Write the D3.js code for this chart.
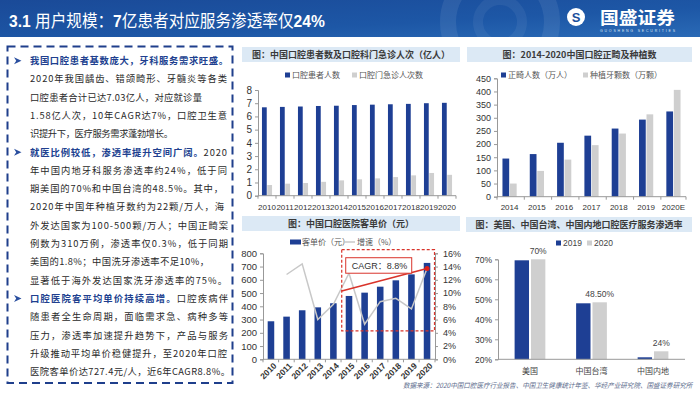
<!DOCTYPE html>
<html>
<head>
<meta charset="utf-8">
<script src="https://cdn.jsdelivr.net/npm/d3@7"></script>
<style>
  body { margin: 0; background: #fff; }
  svg text { font-family: "Liberation Sans", "Noto Sans CJK SC", sans-serif; }
  svg .cn { font-family: "Noto Sans CJK SC", sans-serif; }
</style>
</head>
<body>
<div id="slide"></div>
<script>
// ---- data ----
var patientYears = ["2010", "2011", "2012", "2013", "2014", "2015", "2016", "2017", "2018", "2019", "2020"];
var patientCount = [6.69, 6.72, 6.75, 6.79, 6.81, 6.86, 6.89, 6.92, 6.95, 7.00, 7.03];   // 亿人
var visitCount = [0.81, 0.91, 0.96, 1.05, 1.16, 1.24, 1.31, 1.41, 1.54, 1.72, 1.58];      // 亿人次

var orthoYears = ["2014", "2015", "2016", "2017", "2018", "2019", "2020E"];
var orthoCases = [145, 162, 205, 232, 259, 293, 324];    // 万人
var implantTeeth = [50, 98, 141, 196, 240, 313, 406];   // 万颗

var priceYears = ["2010", "2011", "2012", "2013", "2014", "2015", "2016", "2017", "2018", "2019", "2020"];
var unitPrice = [287, 322, 370, 392, 423, 478, 503, 548, 596, 641, 727.4];   // 元
var priceGrowth = [null, 12.8, 14.4, 6.0, 8.3, 13.0, 5.3, 8.7, 9.2, 7.6, 13.7]; // %

var regions = ["美国", "中国台湾", "中国内地"];
var rate2019 = [69.5, 48, 21];
var rate2020 = [70, 48.5, 24];
var rateLabels = ["70%", "48.50%", "24%"];

// left column text, [text, bold] segments per line
var bodyLines = [
    [["我国口腔患者基数庞大，牙科服务需求旺盛。", 1]],
    [["2020年我国龋齿、错颌畸形、牙髓炎等各类", 0]],
    [["口腔患者合计已达7.03亿人，对应就诊量", 0]],
    [["1.58亿人次，10年CAGR达7%，口腔卫生意", 0]],
    [["识提升下，医疗服务需求蓬勃增长。", 0]],
    [["就医比例较低，渗透率提升空间广阔。", 1], ["2020", 0]],
    [["年中国内地牙科服务渗透率约24%，低于同", 0]],
    [["期美国的70%和中国台湾的48.5%。其中，", 0]],
    [["2020年中国年种植牙数约为22颗/万人，海", 0]],
    [["外发达国家为100-500颗/万人；中国正畸案", 0]],
    [["例数为310万例，渗透率仅0.3%，低于同期", 0]],
    [["美国的1.8%；中国洗牙渗透率不足10%，", 0]],
    [["显著低于海外发达国家洗牙渗透率的75%。", 0]],
    [["口腔医院客平均单价持续高增。", 1], ["口腔疾病伴", 0]],
    [["随患者全生命周期，面临需求急、病种多等", 0]],
    [["压力，渗透率加速提升趋势下，产品与服务", 0]],
    [["升级推动平均单价稳健提升，至2020年口腔", 0]],
    [["医院客单价达727.4元/人，近6年CAGR8.8%。", 0]]
];
var bodyLineEnds = [228, 227, 202, 227, 173, 227, 227, 223, 224, 228, 228, 209, 227, 228, 228, 228, 227, 230];
var bulletLines = [0, 5, 13];

var BLUE = "#1e3f94", GREY = "#cfcfcf", INK = "#333";

var svg = d3.select("#slide").append("svg")
    .attr("width", 700)
    .attr("height", 394);

// ---- header ----
var defs = svg.append("defs");
var hg = defs.append("linearGradient").attr("id", "hdr").attr("x1", 0).attr("y1", 0).attr("x2", 1).attr("y2", 1);
hg.append("stop").attr("offset", "0%").attr("stop-color", "#1a4a98");
hg.append("stop").attr("offset", "60%").attr("stop-color", "#1d57a6");
hg.append("stop").attr("offset", "100%").attr("stop-color", "#2a6ab6");
defs.append("clipPath").attr("id", "hdrClip").append("rect").attr("width", 700).attr("height", 37);

svg.append("rect").attr("width", 700).attr("height", 37).attr("fill", "url(#hdr)");
var wm = svg.append("g").attr("clip-path", "url(#hdrClip)");
wm.append("circle").attr("cx", 500).attr("cy", 22).attr("r", 52)
    .attr("fill", "none").attr("stroke", "#ffffff").attr("stroke-opacity", 0.08).attr("stroke-width", 16);
wm.append("circle").attr("cx", 500).attr("cy", 22).attr("r", 22)
    .attr("fill", "none").attr("stroke", "#ffffff").attr("stroke-opacity", 0.06).attr("stroke-width", 10);

var title = svg.append("text").attr("class", "cn")
    .attr("fill", "#fff").attr("font-size", 17);
title.append("tspan").attr("font-weight", 700).attr("font-family", "Liberation Sans").text("3.1 ");
title.append("tspan").text("用户规模：");
title.append("tspan").attr("font-weight", 700).attr("font-family", "Liberation Sans").text("7");
title.append("tspan").text("亿患者对应服务渗透率仅");
title.append("tspan").attr("font-weight", 700).attr("font-family", "Liberation Sans").text("24%");
var tl = title.node().getComputedTextLength();
title.attr("transform", "translate(9,27) scale(" + (316 / tl) + ",1)");

// logo
svg.append("circle").attr("cx", 576).attr("cy", 17).attr("r", 9).attr("fill", "#fff");
svg.append("text").attr("x", 576).attr("y", 21.5).attr("text-anchor", "middle")
    .attr("font-size", 13).attr("font-weight", 700).attr("fill", "#1d4f9c").text("S");
svg.append("text").attr("class", "cn").attr("x", 600).attr("y", 24)
    .attr("font-size", 17).attr("font-weight", 700).attr("fill", "#fff")
    .attr("textLength", 75).attr("lengthAdjust", "spacingAndGlyphs").text("国盛证券");
svg.append("text").attr("x", 600).attr("y", 31.5)
    .attr("font-size", 3.5).attr("fill", "#dfe8f5")
    .attr("textLength", 75).attr("lengthAdjust", "spacing").text("GUOSHENG SECURITIES");

// ---- left text box ----
svg.append("rect")
    .attr("x", 7.5).attr("y", 46.5).attr("width", 225).attr("height", 336.5)
    .attr("fill", "none").attr("stroke", "#1f3f8c").attr("stroke-width", 2)
    .attr("stroke-dasharray", "8,5");

bodyLines.forEach(function (segs, i) {
    var yb = 64 + i * 18.3;
    var t = svg.append("text").attr("class", "cn")
        .attr("x", 30).attr("y", yb).attr("font-size", 9.3);
    var n = 0;
    segs.forEach(function (s) {
        t.append("tspan")
            .attr("fill", s[1] ? "#203f8f" : "#2a2a2a")
            .attr("font-weight", s[1] ? 700 : 400)
            .text(s[0]);
        n += s[0].length;
    });
    var len = t.node().getComputedTextLength();
    t.attr("letter-spacing", ((bodyLineEnds[i] - 30 - len) / (n - 1)) + "px");
});
bulletLines.forEach(function (i) {
    var yc = 60.7 + i * 18.3;
    svg.append("path")
        .attr("d", "M14," + (yc - 3.5) + " L21.5," + yc + " L14," + (yc + 3.5) + " L16.2," + yc + " Z")
        .attr("fill", "#2a4f9f");
});

// ---- helpers ----
function panelTitle(x, y, w, txt) {
    svg.append("rect").attr("x", x).attr("y", y).attr("width", w).attr("height", 15)
        .attr("fill", "#dce9f5");
    svg.append("text").attr("class", "cn")
        .attr("x", x + w / 2).attr("y", y + 11)
        .attr("text-anchor", "middle").attr("font-size", 9).attr("font-weight", 700)
        .attr("fill", "#3a3a3a").text(txt);
}
function legendItem(x, y, color, txt, wide) {
    if (wide) {
        svg.append("rect").attr("x", x).attr("y", y - 2.5).attr("width", 11).attr("height", 5).attr("fill", color);
    } else {
        svg.append("rect").attr("x", x).attr("y", y - 2.5).attr("width", 5).attr("height", 5).attr("fill", color);
    }
    svg.append("text").attr("class", "cn")
        .attr("x", x + (wide ? 12 : 7)).attr("y", y + 3)
        .attr("font-size", 8).attr("fill", "#555").text(txt);
}
function styleAxis(g, fs) {
    g.attr("font-family", null).attr("font-size", null);
    g.select(".domain").attr("stroke", "#999");
    g.selectAll(".tick line").attr("stroke", "#999");
    g.selectAll(".tick text").attr("font-size", fs).attr("fill", INK);
}
function bandAxis(x, yPos, tick) {
    svg.append("line").attr("x1", x.range()[0]).attr("x2", x.range()[1])
        .attr("y1", yPos).attr("y2", yPos).attr("stroke", "#999");
    if (tick) {
        var st = x.step();
        x.domain().forEach(function (d, i) {
            var xx = x.range()[0] + i * st;
            svg.append("line").attr("x1", xx).attr("x2", xx).attr("y1", yPos).attr("y2", yPos + 3).attr("stroke", "#999");
        });
        svg.append("line").attr("x1", x.range()[1]).attr("x2", x.range()[1]).attr("y1", yPos).attr("y2", yPos + 3).attr("stroke", "#999");
    }
}

// ---- chart 1: patients and visits ----
panelTitle(242, 47, 218, "图：中国口腔患者数及口腔科门急诊人次（亿人）");
legendItem(285, 75, BLUE, "口腔患者人数");
legendItem(352, 75, GREY, "口腔门急诊人次数");

var x1 = d3.scaleBand().domain(patientYears).range([258, 456]).paddingInner(0.44).paddingOuter(0.22);
var s1 = d3.scaleBand().domain([0, 1]).range([0, x1.bandwidth()]).paddingInner(0.1);
var y1 = d3.scaleLinear().domain([0, 8]).range([195.7, 90]);

svg.append("g").attr("transform", "translate(258,0)")
    .call(d3.axisLeft(y1).ticks(8).tickSize(3).tickPadding(3))
    .call(styleAxis, 10);
svg.append("g").selectAll("rect.a").data(patientCount).enter().append("rect")
    .attr("x", function (d, i) { return x1(patientYears[i]) + s1(0); })
    .attr("y", function (d) { return y1(d); })
    .attr("width", s1.bandwidth())
    .attr("height", function (d) { return y1(0) - y1(d); })
    .attr("fill", BLUE);
svg.append("g").selectAll("rect.b").data(visitCount).enter().append("rect")
    .attr("x", function (d, i) { return x1(patientYears[i]) + s1(1); })
    .attr("y", function (d) { return y1(d); })
    .attr("width", s1.bandwidth())
    .attr("height", function (d) { return y1(0) - y1(d); })
    .attr("fill", GREY);
bandAxis(x1, y1(0), true);
svg.append("g").selectAll("text").data(patientYears).enter().append("text")
    .attr("x", function (d) { return x1(d) + x1.bandwidth() / 2; })
    .attr("y", 210)
    .attr("text-anchor", "middle").attr("font-size", 8).attr("fill", INK)
    .text(function (d) { return d; });

// ---- chart 2: ortho and implants ----
panelTitle(467, 47, 225, "图：2014-2020中国口腔正畸及种植数");
legendItem(501, 75, BLUE, "正畸人数（万人）");
legendItem(583, 75, GREY, "种植牙颗数（万颗）");

var x2 = d3.scaleBand().domain(orthoYears).range([497, 686]).paddingInner(0.48).paddingOuter(0.2);
var s2 = d3.scaleBand().domain([0, 1]).range([0, x2.bandwidth()]).paddingInner(0.1);
var y2 = d3.scaleLinear().domain([0, 450]).range([196.7, 78.3]);

svg.append("g").attr("transform", "translate(497,0)")
    .call(d3.axisLeft(y2).tickValues(d3.range(0, 451, 50)).tickSize(3).tickPadding(3))
    .call(styleAxis, 9);
svg.append("g").selectAll("rect").data(orthoCases).enter().append("rect")
    .attr("x", function (d, i) { return x2(orthoYears[i]) + s2(0); })
    .attr("y", function (d) { return y2(d); })
    .attr("width", s2.bandwidth())
    .attr("height", function (d) { return y2(0) - y2(d); })
    .attr("fill", BLUE);
svg.append("g").selectAll("rect").data(implantTeeth).enter().append("rect")
    .attr("x", function (d, i) { return x2(orthoYears[i]) + s2(1); })
    .attr("y", function (d) { return y2(d); })
    .attr("width", s2.bandwidth())
    .attr("height", function (d) { return y2(0) - y2(d); })
    .attr("fill", GREY);
bandAxis(x2, y2(0), true);
svg.append("g").selectAll("text").data(orthoYears).enter().append("text")
    .attr("x", function (d) { return x2(d) + x2.bandwidth() / 2; })
    .attr("y", 210)
    .attr("text-anchor", "middle").attr("font-size", 8).attr("fill", INK)
    .text(function (d) { return d; });

// ---- chart 3: price per visit ----
panelTitle(242, 216, 218, "图：中国口腔医院客单价（元）");
legendItem(290, 242, BLUE, "客单价（元）", true);
svg.append("line").attr("x1", 343).attr("x2", 355).attr("y1", 242).attr("y2", 242)
    .attr("stroke", "#c8c8c8").attr("stroke-width", 1.5);
svg.append("text").attr("class", "cn").attr("x", 357).attr("y", 245)
    .attr("font-size", 8).attr("fill", "#555").text("增速（%）");

var x3 = d3.scaleBand().domain(priceYears).range([263, 435]).paddingInner(0.58).paddingOuter(0.3);
var yL = d3.scaleLinear().domain([0, 800]).range([359.3, 253.3]);
var yR = d3.scaleLinear().domain([0, 16]).range([359.3, 253.3]);

svg.append("g").attr("transform", "translate(263,0)")
    .call(d3.axisLeft(yL).ticks(8).tickSize(3).tickPadding(3))
    .call(styleAxis, 9.5);
svg.append("g").attr("transform", "translate(435,0)")
    .call(d3.axisRight(yR).ticks(8).tickSize(3).tickPadding(5).tickFormat(function (d) { return d + "%"; }))
    .call(styleAxis, 9);
svg.append("g").selectAll("rect").data(unitPrice).enter().append("rect")
    .attr("x", function (d, i) { return x3(priceYears[i]); })
    .attr("y", function (d) { return yL(d); })
    .attr("width", x3.bandwidth())
    .attr("height", function (d) { return yL(0) - yL(d); })
    .attr("fill", BLUE);
bandAxis(x3, yL(0), true);

var growthLine = d3.line()
    .defined(function (d) { return d != null; })
    .x(function (d, i) { return x3(priceYears[i]) + x3.bandwidth() / 2; })
    .y(function (d) { return yR(d); });
svg.append("path").datum(priceGrowth)
    .attr("d", growthLine)
    .attr("fill", "none").attr("stroke", "#c8c8c8").attr("stroke-width", 1.5);

svg.append("g").selectAll("text").data(priceYears).enter().append("text")
    .attr("transform", function (d) {
        return "translate(" + (x3(d) + x3.bandwidth() / 2 + 4) + "," + (yL(0) + 5) + ") rotate(-45)";
    })
    .attr("text-anchor", "end").attr("dy", "0.35em")
    .attr("font-size", 8.5).attr("font-weight", 700).attr("fill", "#333")
    .text(function (d) { return d; });

// CAGR annotation
var boxL = x3("2015") - 4, boxR = 434.5, boxT = yL(827), boxB = yL(214);
svg.append("rect").attr("x", boxL).attr("y", boxT).attr("width", boxR - boxL).attr("height", boxB - boxT)
    .attr("fill", "none").attr("stroke", "#d9342b").attr("stroke-width", 1.2).attr("stroke-dasharray", "3,2");
var endX = x3("2020") + x3.bandwidth() / 2, endY = yR(priceGrowth[10]);
svg.append("line").attr("x1", boxL).attr("y1", yR(10.3)).attr("x2", endX).attr("y2", endY)
    .attr("stroke", "#d9342b").attr("stroke-width", 1.6);
svg.append("circle").attr("cx", endX).attr("cy", endY).attr("r", 2.5).attr("fill", "#e0201a");
svg.append("rect").attr("x", boxL + 4).attr("y", boxT + 8).attr("width", 66).attr("height", 15.5)
    .attr("fill", "#fff").attr("stroke", "#d9342b").attr("stroke-width", 1);
svg.append("text").attr("x", boxL + 10).attr("y", boxT + 19)
    .attr("font-size", 9).attr("fill", "#333").text("CAGR：8.8%");

// ---- chart 4: penetration ----
panelTitle(466, 217, 226, "图：美国、中国台湾、中国内地口腔医疗服务渗透率");
svg.append("rect").attr("x", 556).attr("y", 240.5).attr("width", 5).attr("height", 5).attr("fill", BLUE);
svg.append("text").attr("x", 563).attr("y", 246).attr("font-size", 8.5).attr("fill", "#444").text("2019");
svg.append("rect").attr("x", 587).attr("y", 240.5).attr("width", 5).attr("height", 5).attr("fill", GREY);
svg.append("text").attr("x", 594).attr("y", 246).attr("font-size", 8.5).attr("fill", "#444").text("2020");

var x4 = d3.scaleBand().domain(regions).range([498, 685]).paddingInner(0.5).paddingOuter(0.27);
var s4 = d3.scaleBand().domain([0, 1]).range([0, x4.bandwidth()]).paddingInner(0.12);
var y4 = d3.scaleLinear().domain([20, 70]).range([359.3, 259.3]);

svg.append("g").attr("transform", "translate(498,0)")
    .call(d3.axisLeft(y4).ticks(5).tickSize(3).tickPadding(3).tickFormat(function (d) { return d + "%"; }))
    .call(styleAxis, 8.5);
svg.append("g").selectAll("rect").data(rate2019).enter().append("rect")
    .attr("x", function (d, i) { return x4(regions[i]) + s4(0); })
    .attr("y", function (d) { return y4(d); })
    .attr("width", s4.bandwidth())
    .attr("height", function (d) { return y4(20) - y4(d); })
    .attr("fill", BLUE);
svg.append("g").selectAll("rect").data(rate2020).enter().append("rect")
    .attr("x", function (d, i) { return x4(regions[i]) + s4(1); })
    .attr("y", function (d) { return y4(d); })
    .attr("width", s4.bandwidth())
    .attr("height", function (d) { return y4(20) - y4(d); })
    .attr("fill", GREY);
bandAxis(x4, y4(20), false);
svg.append("g").selectAll("text").data(rate2020).enter().append("text")
    .attr("x", function (d, i) { return x4(regions[i]) + s4(1) + s4.bandwidth() / 2; })
    .attr("y", function (d) { return y4(d) - 5; })
    .attr("text-anchor", "middle").attr("font-size", 8.5).attr("fill", "#444")
    .text(function (d, i) { return rateLabels[i]; });
svg.append("g").selectAll("text").data(regions).enter().append("text")
    .attr("class", "cn")
    .attr("x", function (d) { return x4(d) + x4.bandwidth() / 2; })
    .attr("y", 374)
    .attr("text-anchor", "middle").attr("font-size", 8).attr("fill", "#444")
    .text(function (d) { return d; });

// ---- source ----
var src = svg.append("text").attr("class", "cn")
    .attr("font-size", 7).attr("font-style", "italic").attr("fill", "#5b6b8c")
    .text("数据来源：2020中国口腔医疗行业报告、中国卫生健康统计年鉴、华经产业研究院、国盛证券研究所");
var sl = src.node().getComputedTextLength();
src.attr("transform", "translate(403,388) scale(" + (290 / sl) + ",1)");
</script>
</body>
</html>
